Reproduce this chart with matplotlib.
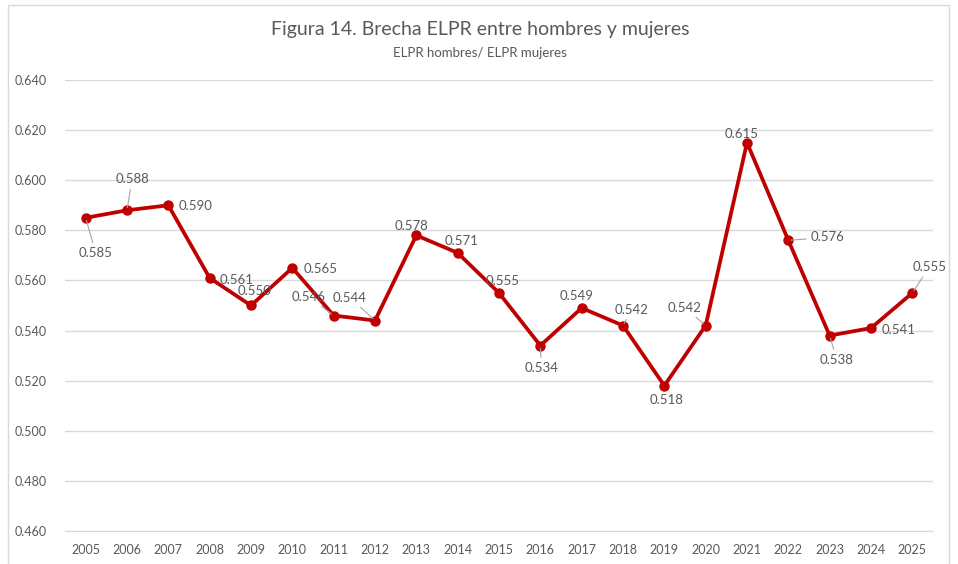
import matplotlib
matplotlib.use('Agg')
import matplotlib.pyplot as plt
import matplotlib.patches as mpatches
import numpy as np

plt.rcParams['font.family'] = ['Lato', 'DejaVu Sans']

years = ['2005', '2006', '2007', '2008', '2009', '2010', '2011', '2012', '2013', '2014',
         '2015', '2016', '2017', '2018', '2019', '2020', '2021', '2022', '2023', '2024', '2025']
ratio = [0.585, 0.588, 0.590, 0.561, 0.550, 0.565, 0.546, 0.544, 0.578, 0.571,
         0.555, 0.534, 0.549, 0.542, 0.518, 0.542, 0.615, 0.576, 0.538, 0.541, 0.555]
yticks = [0.46, 0.48, 0.50, 0.52, 0.54, 0.56, 0.58, 0.60, 0.62, 0.64]

# label offsets in pixels (dx, dy up) and whether a leader line is drawn
label_off = [(10, -35, True), (5, 31, True), (27, -1, False), (27, -2, False), (4, 14, False),
             (28, -1, False), (-25, 19, True), (-25, 23, True), (-5, 9, False), (4, 12, False),
             (4, 12, False), (1, -22, True), (-5, 12, False), (9, 16, True), (2, -14, False),
             (-21, 18, True), (-5, 9, False), (39, 3, True), (7, -24, True), (28, -2, False),
             (17, 26, True)]

txt = '#595959'
grid = '#d9d9d9'

fig = plt.figure(figsize=(9.58, 5.64), dpi=100)
fig.patches.append(mpatches.Rectangle((8/958, -0.01), 941/958, 1 - 5/564 + 0.01,
                                      transform=fig.transFigure, fill=False,
                                      edgecolor=grid, lw=1))
ax = fig.add_axes([65/958, 1 - 531/564, 868/958, 451/564])

x = np.arange(len(years))
ax.plot(x, ratio, color='#c00000', lw=2.7, marker='o', ms=6.5, zorder=3)

for i, v in enumerate(ratio):
    dx, dy, lead = label_off[i]
    ap = dict(arrowstyle='-', color='#a6a6a6', lw=0.8, shrinkA=1, shrinkB=2) if lead else None
    ax.annotate(f'{v:.3f}', (x[i], v), xytext=(dx, dy), textcoords='offset pixels',
                ha='center', va='center', fontsize=9.5, color=txt, arrowprops=ap, zorder=4)

ax.set_xlim(-0.5, len(years) - 0.5)
ax.set_ylim(0.46, 0.64)
ax.set_yticks(yticks)
ax.set_yticklabels([f'{t:.3f}' for t in yticks])
ax.set_xticks(x)
ax.set_xticklabels(years)
ax.tick_params(axis='both', length=0, labelsize=9, labelcolor=txt)
ax.tick_params(axis='y', pad=13)
ax.tick_params(axis='x', pad=9)
ax.grid(axis='y', color=grid, lw=1)
ax.set_axisbelow(True)
for s in ['top', 'right', 'left']:
    ax.spines[s].set_visible(False)
ax.spines['bottom'].set_color(grid)

fig.text(480/958, 1 - 30/564, 'Figura 14. Brecha ELPR entre hombres y mujeres',
         ha='center', va='center', fontsize=14, color=txt)
fig.text(480/958, 1 - 53/564, 'ELPR hombres/ ELPR mujeres',
         ha='center', va='center', fontsize=9.5, color=txt)

fig.savefig('out.png', dpi=100)
